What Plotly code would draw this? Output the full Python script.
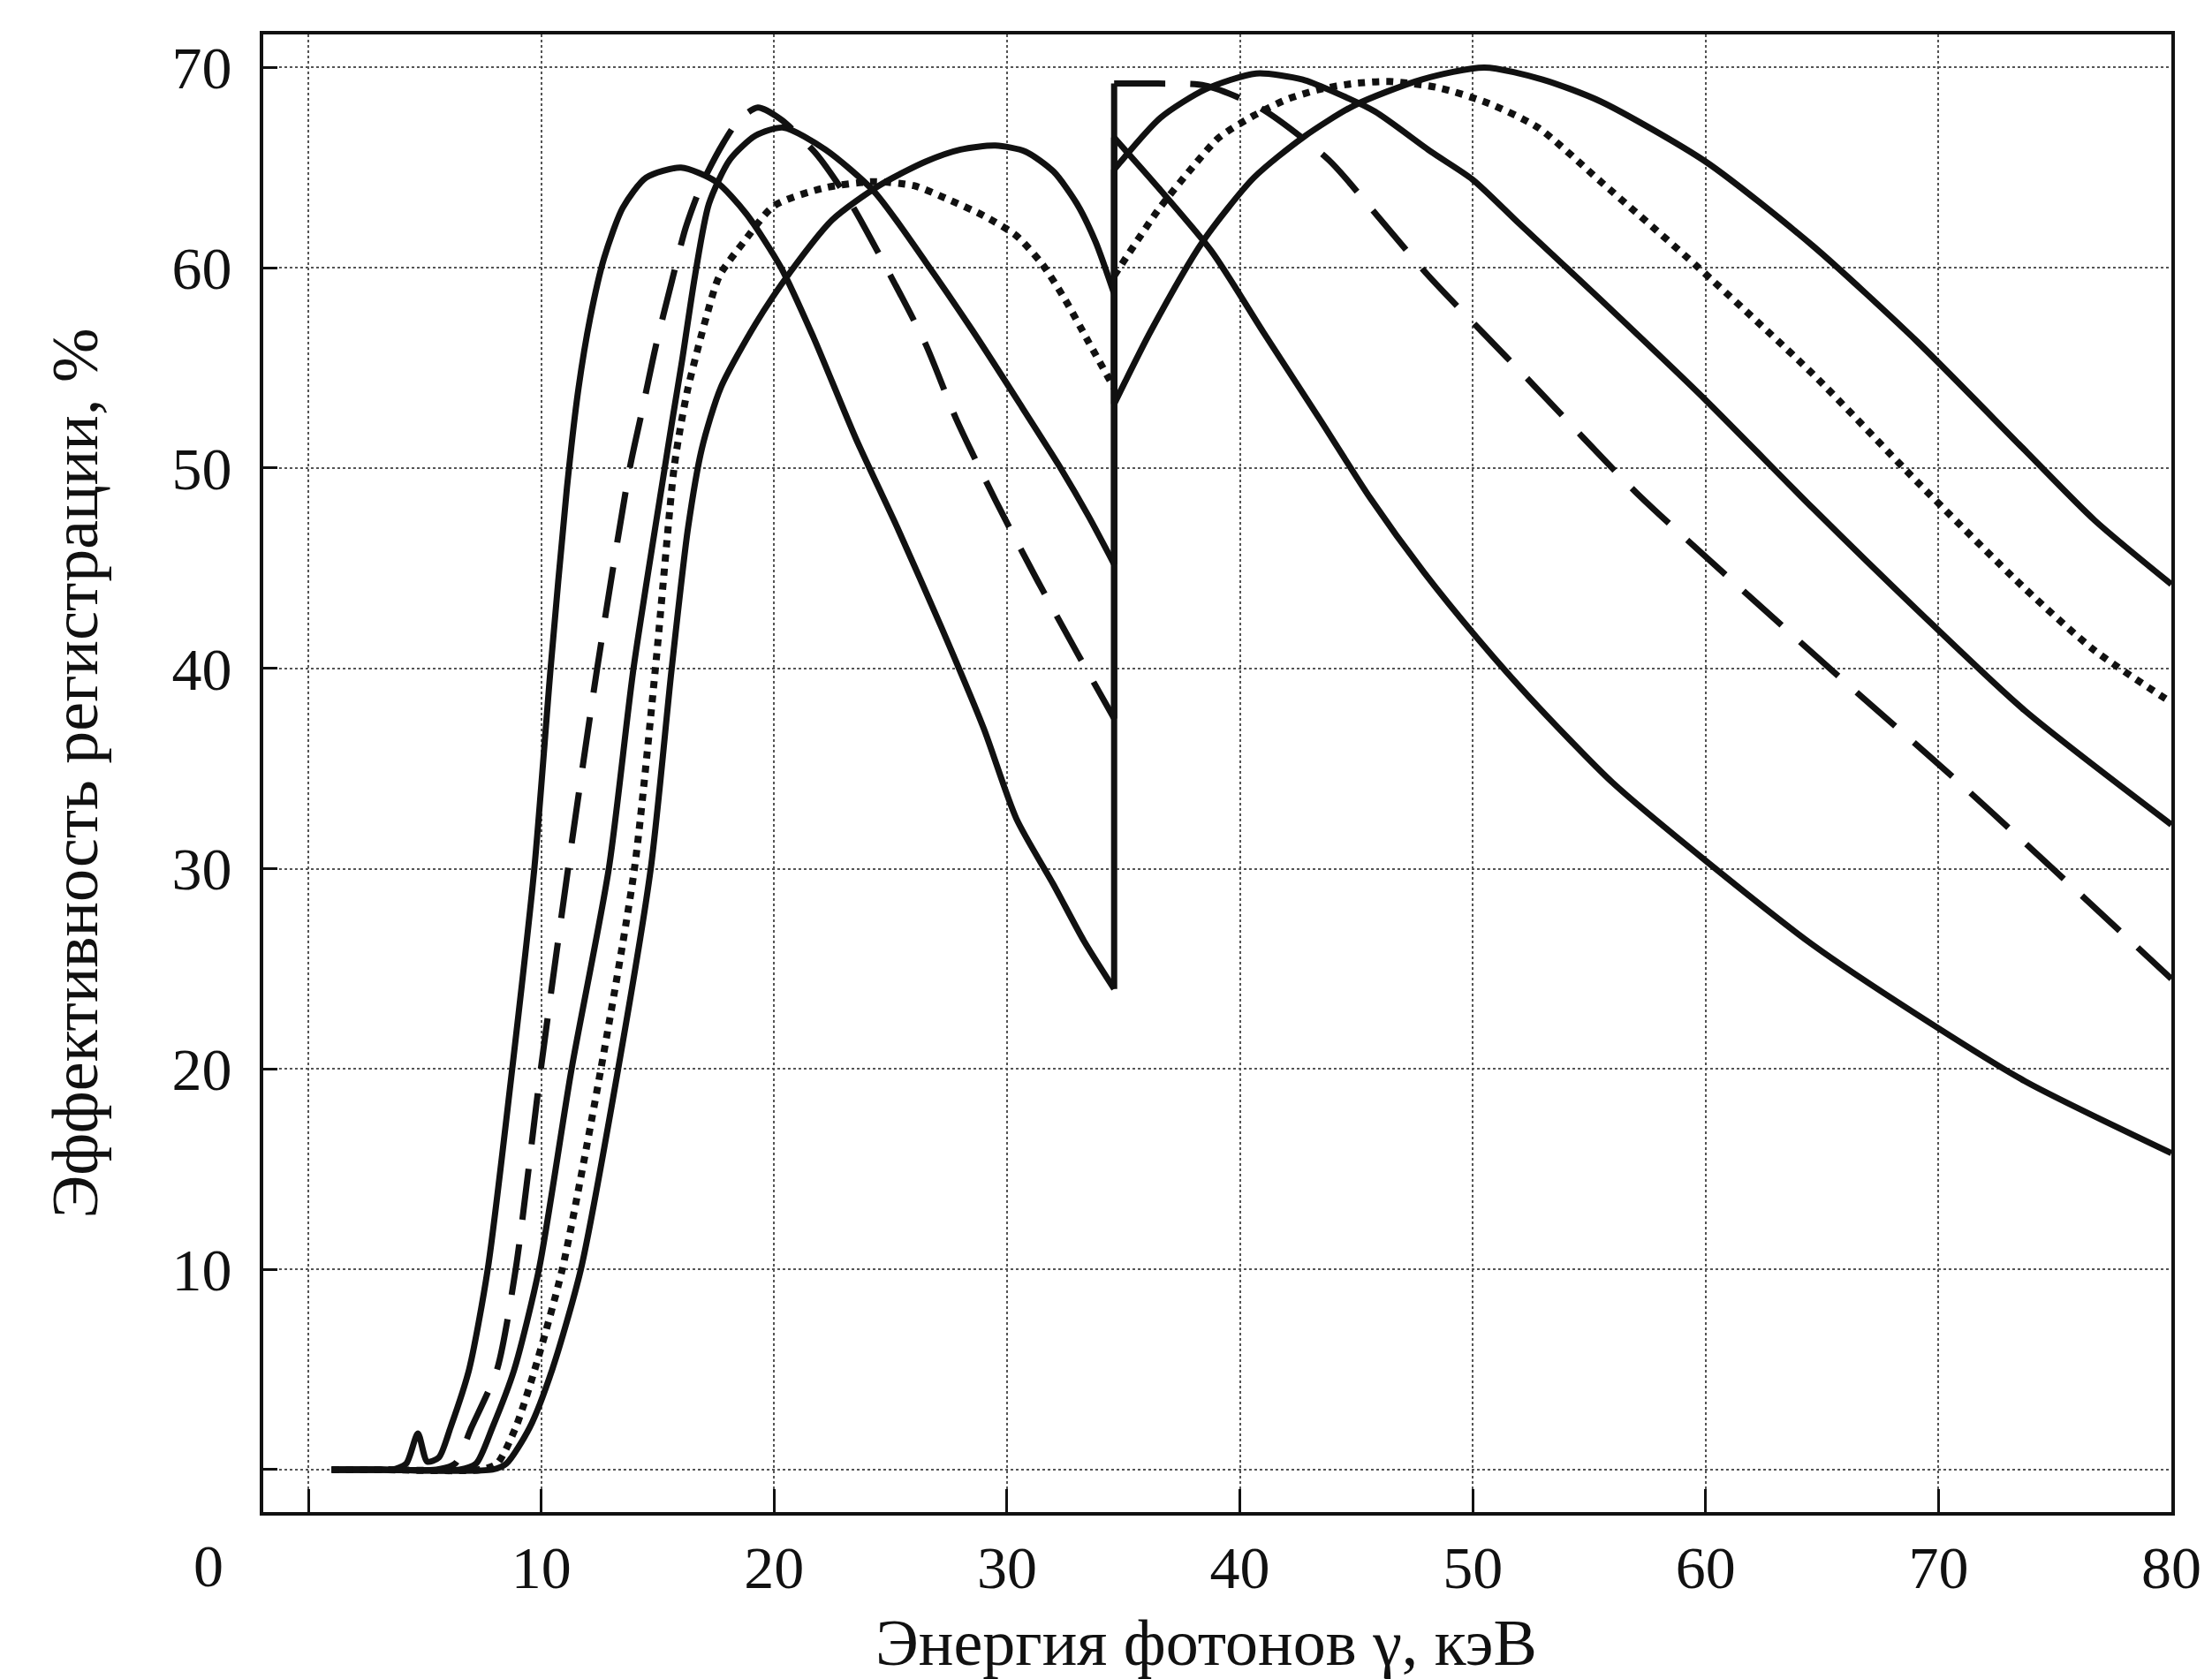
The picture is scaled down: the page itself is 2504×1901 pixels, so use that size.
import plotly.graph_objects as go

# K-edge energy (keV) where all curves jump
edge_x = 34.6

# ---- Curve 1 (solid, thinnest detector) ----
a_pre_x = [1.0, 3.0, 3.6, 4.2, 4.7, 5.1, 5.6, 6.1, 6.9, 7.7, 8.75, 9.7, 10.4, 11.1, 11.6, 12.1, 12.7, 13.5, 14.5, 16.0, 17.5, 18.8, 20.3, 21.7, 23.5, 25.3, 27.2, 29.0, 30.4, 32.0, 33.3, 34.6]
a_pre_y = [0, 0, 0, 0.3, 1.8, 0.4, 0.6, 2.1, 5.0, 10, 20, 30, 40, 49, 54, 57.5, 60.5, 63.0, 64.5, 65.0, 64.3, 62.7, 60, 56.5, 51.5, 47, 42, 37, 32.5, 29.2, 26.4, 24.0]
a_post_x = [34.6, 36.5, 38.8, 41.0, 43.4, 45.6, 47.9, 50.2, 52.4, 56.0, 60.0, 64.6, 69.1, 73.7, 80]
a_post_y = [66.5, 64.0, 60.8, 56.8, 52.5, 48.5, 44.8, 41.5, 38.6, 34.3, 30.4, 26.2, 22.7, 19.4, 15.8]

# ---- Curve 2 (dashed) ----
d_pre_x = [1.0, 3.0, 5.5, 6.3, 7.0, 8.1, 8.9, 9.98, 11.15, 12.4, 13.8, 14.3, 14.9, 15.6, 16.2, 16.9, 17.8, 18.5, 19.3, 20.3, 21.8, 23.3, 25.0, 26.5, 27.8, 29.5, 31.3, 33.0, 34.6]
d_pre_y = [0, 0, 0, 0.3, 2.1, 5.0, 10, 20, 30, 40, 50, 52.7, 56.0, 59.3, 62.0, 64.2, 66.2, 67.4, 68.0, 67.4, 65.7, 63.2, 59.6, 56.2, 52.5, 48.4, 44.4, 40.8, 37.5]
d_post_x = [34.6, 36.5, 38.5, 40.85, 43.8, 45.9, 48.1, 50.4, 52.4, 57.0, 61.5, 66.1, 70.6, 73.7, 80]
d_post_y = [69.2, 69.2, 69.1, 68.0, 65.4, 62.6, 59.6, 56.8, 54.4, 48.8, 44.0, 39.2, 34.6, 31.3, 24.5]

# ---- Curve 3 (solid) ----
b_pre_x = [1.0, 3.0, 6.5, 7.2, 7.9, 8.84, 9.9, 11.3, 12.9, 13.96, 15.3, 15.6, 16.05, 16.6, 17.2, 18.1, 19.2, 20.4, 22.2, 24.3, 26.5, 28.5, 30.5, 32.3, 33.5, 34.6]
b_pre_y = [0, 0, 0, 0.3, 2.1, 5.0, 10, 20, 30, 40, 50, 52.2, 55.4, 59.6, 63.2, 65.4, 66.6, 67.0, 65.9, 63.8, 60.3, 56.9, 53.3, 50.0, 47.6, 45.2]
b_post_x = [34.6, 36.6, 38.5, 40.7, 42.7, 44.0, 45.8, 48.2, 50.0, 52.0, 55.5, 60.0, 64.6, 69.1, 73.7, 80]
b_post_y = [64.9, 67.5, 68.9, 69.7, 69.4, 68.8, 67.8, 65.8, 64.4, 62.2, 58.4, 53.4, 48.0, 42.9, 37.9, 32.2]

# ---- Curve 4 (dotted) ----
p_pre_x = [1.0, 3.0, 7.4, 8.1, 8.9, 9.72, 10.9, 12.56, 14.0, 14.9, 15.7, 16.0, 16.3, 17.1, 17.65, 18.7, 20.0, 22.2, 24.3, 26.0, 27.5, 29.0, 30.4, 31.5, 32.5, 33.5, 34.6]
p_pre_y = [0, 0, 0, 0.3, 2.1, 5.0, 10, 20, 30, 40, 50, 52.2, 54.0, 57.6, 59.6, 61.3, 63.1, 64.0, 64.3, 64.1, 63.4, 62.6, 61.6, 60.2, 58.4, 56.3, 54.0]
p_post_x = [34.6, 36.5, 37.95, 39.1, 40.6, 42.0, 43.4, 44.9, 46.4, 48.5, 50.7, 52.8, 55.5, 59.7, 64.6, 69.1, 73.7, 76.7, 80]
p_post_y = [59.6, 62.9, 65.0, 66.5, 67.6, 68.4, 68.9, 69.2, 69.3, 69.0, 68.2, 67.0, 64.3, 60.0, 54.7, 49.3, 44.0, 40.9, 38.3]

# ---- Curve 5 (solid, thickest detector) ----
c_pre_x = [1.0, 3.0, 7.9, 8.5, 9.5, 10.47, 11.7, 13.3, 14.7, 15.6, 16.3, 16.9, 17.7, 19.2, 20.7, 22.5, 24.5, 26.5, 28.0, 29.5, 30.8, 32.0, 33.0, 33.8, 34.6]
c_pre_y = [0, 0, 0, 0.3, 2.1, 5.0, 10, 20, 30, 40, 47, 51, 54, 57.2, 59.8, 62.4, 64.1, 65.3, 65.9, 66.1, 65.8, 64.8, 63.2, 61.3, 58.7]
c_post_x = [34.6, 36.2, 38.4, 40.6, 42.7, 44.9, 47.8, 50.5, 53.0, 55.5, 60.0, 64.6, 69.1, 73.7, 76.7, 80]
c_post_y = [53.2, 56.9, 61.3, 64.5, 66.5, 68.1, 69.4, 70.0, 69.4, 68.3, 65.3, 61.1, 56.3, 50.9, 47.4, 44.2]

x_ticks = [0, 10, 20, 30, 40, 50, 60, 70, 80]
x_ticktext = ["", "10", "20", "30", "40", "50", "60", "70", "80"]
y_ticks = [0, 10, 20, 30, 40, 50, 60, 70]
y_ticktext = ["", "10", "20", "30", "40", "50", "60", "70"]
origin_label = "0"

x_title = "Энергия фотонов γ, кэВ"
y_title = "Эффективность регистрации, %"

INK = "#111111"
LW = 7
styles = {
    "solid": dict(color=INK, width=LW, dash="solid"),
    "dash": dict(color=INK, width=LW, dash="58px,28px"),
    "dot": dict(color=INK, width=8, dash="8px,8px"),
}

series = [
    (a_pre_x, a_pre_y, a_post_x, a_post_y, "solid"),
    (c_pre_x, c_pre_y, c_post_x, c_post_y, "solid"),
    (b_pre_x, b_pre_y, b_post_x, b_post_y, "solid"),
    (d_pre_x, d_pre_y, d_post_x, d_post_y, "dash"),
    (p_pre_x, p_pre_y, p_post_x, p_post_y, "dot"),
]

fig = go.Figure()
for px_, py_, qx_, qy_, st in series:
    ln = styles[st]
    fig.add_trace(go.Scatter(x=px_, y=py_, mode="lines",
                             line=dict(**ln, shape="spline", smoothing=0.7),
                             showlegend=False, hoverinfo="skip"))
    fig.add_trace(go.Scatter(x=qx_, y=qy_, mode="lines",
                             line=dict(**ln, shape="spline", smoothing=0.7),
                             showlegend=False, hoverinfo="skip"))
    # vertical jump at the absorption edge
    fig.add_trace(go.Scatter(x=[px_[-1], qx_[0]], y=[py_[-1], qy_[0]], mode="lines",
                             line=dict(color=INK, width=LW),
                             showlegend=False, hoverinfo="skip"))

FONT = "Liberation Serif, Times New Roman, serif"
TICK_SIZE = 68
TITLE_SIZE = 74

fig.update_layout(
    width=2504, height=1901,
    margin=dict(l=298, r=46, t=39, b=189, autoexpand=False),
    paper_bgcolor="white", plot_bgcolor="white",
    font=dict(family=FONT, size=TICK_SIZE, color=INK),
    showlegend=False,
)
fig.update_xaxes(
    range=[-1.94, 80], tickmode="array", tickvals=x_ticks, ticktext=x_ticktext,
    ticks="inside", ticklen=26, tickwidth=3, tickcolor=INK,
    showline=True, linewidth=4, linecolor=INK, mirror=True,
    showgrid=True, gridcolor="#555555", gridwidth=2, griddash="dot",
    zeroline=False, tickfont=dict(size=TICK_SIZE, family=FONT, color=INK),
    ticklabelstandoff=0, automargin=False,
)
fig.update_yaxes(
    range=[-2.12, 71.65], tickmode="array", tickvals=y_ticks, ticktext=y_ticktext,
    ticks="inside", ticklen=16, tickwidth=3, tickcolor=INK,
    showline=True, linewidth=4, linecolor=INK, mirror=True,
    showgrid=True, gridcolor="#555555", gridwidth=2, griddash="dot",
    zeroline=False, tickfont=dict(size=TICK_SIZE, family=FONT, color=INK),
    ticklabelstandoff=18, automargin=False,
    title=dict(text=y_title, font=dict(size=TITLE_SIZE, family=FONT, color=INK), standoff=61),
)
# x-axis title placed below the tick labels
fig.add_annotation(x=0.494, y=-0.0885, xref="paper", yref="paper", text=x_title,
                   showarrow=False, xanchor="center", yanchor="middle",
                   font=dict(size=TITLE_SIZE, family=FONT, color=INK))
# lone origin label at the lower-left corner
fig.add_annotation(x=-0.0287, y=-0.0365, xref="paper", yref="paper", text=origin_label,
                   showarrow=False, xanchor="center", yanchor="middle",
                   font=dict(size=TICK_SIZE, family=FONT, color=INK))

fig.write_html("out.html")
